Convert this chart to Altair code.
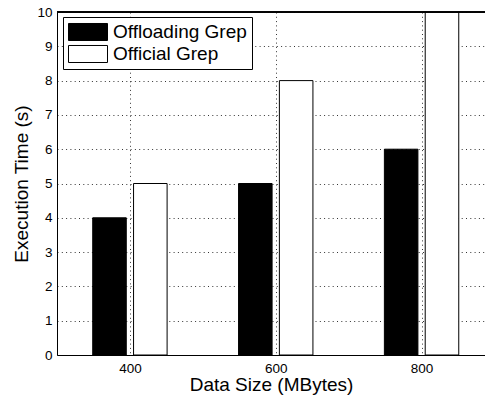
import altair as alt
import pandas as pd

# Grep execution time by input size
sizes = [400, 600, 800]
series_names = ["Offloading Grep", "Official Grep"]
offloading_time = [4, 5, 6]
official_time = [5, 8, 10]
y_ticks = list(range(0, 11))

rows = []
for s, a, b in zip(sizes, offloading_time, official_time):
    rows.append({"series": series_names[0], "size": s, "time": a})
    rows.append({"series": series_names[1], "size": s, "time": b})
df = pd.DataFrame(rows)

FONT = "Liberation Sans"
GRID = dict(grid=True, gridDash=[1, 3.3], gridColor="#000", gridOpacity=0.8)

y_scale = alt.Scale(domain=[0, 10], nice=False)
y_axis = alt.Axis(
    values=y_ticks,
    labelOverlap=False,
    title="Execution Time (s)",
    ticks=False,
    labelPadding=5,
    titlePadding=5,
    **GRID,
)

# grouped bars placed around each size value (left: offloading, right: official)
bars = (
    alt.Chart(df)
    .transform_calculate(
        x0=f"datum.size + (datum.series == '{series_names[0]}' ? -51 : 5)",
        x1=f"datum.size + (datum.series == '{series_names[0]}' ? -5 : 51)",
    )
    .mark_bar(stroke="black", strokeWidth=1, clip=True)
    .encode(
        x=alt.X(
            "x0:Q",
            scale=alt.Scale(domain=[300, 887], nice=False, zero=False),
            axis=alt.Axis(
                values=sizes,
                title="Data Size (MBytes)",
                ticks=False,
                labelPadding=6,
                titlePadding=1,
                labelOverlap=False,
                **GRID,
            ),
        ),
        x2="x1:Q",
        y=alt.Y("time:Q", scale=y_scale, axis=y_axis),
        y2=alt.datum(0),
        fill=alt.Fill(
            "series:N",
            scale=alt.Scale(domain=series_names, range=["black", "white"]),
            sort=series_names,
            legend=alt.Legend(
                title=None,
                orient="none",
                legendX=6,
                legendY=5,
                symbolType="M-1,-0.436L1,-0.436L1,0.436L-1,0.436Z",
                symbolSize=1521,
                symbolStrokeColor="black",
                symbolStrokeWidth=1,
                clipHeight=20,
                rowPadding=2,
                labelFontSize=19,
                labelFont=FONT,
                labelColor="black",
                labelOffset=5,
                padding=5,
                strokeColor="black",
                fillColor="white",
            ),
        ),
    )
)

# top edge of the axes box (pixel row 0 of the plot area, no scale involved)
top_edge = alt.Chart(df).mark_rule(color="black", strokeWidth=1).encode(
    y=alt.value(0)
)

chart = (
    alt.layer(bars, top_edge)
    .properties(
        width=428,
        height=343,
        autosize=alt.AutoSizeParams(type="none"),
        padding={"left": 57, "top": 12, "right": 0, "bottom": 46},
        background="white",
    )
    .configure_view(stroke=None)
    .configure_axis(
        domainColor="black",
        domainWidth=1,
        labelFont=FONT,
        labelFontSize=13.5,
        labelColor="black",
        titleFont=FONT,
        titleFontSize=19,
        titleFontWeight="normal",
        titleColor="black",
    )
)

chart.save("out.html", embed_options={"renderer": "svg", "actions": False})
